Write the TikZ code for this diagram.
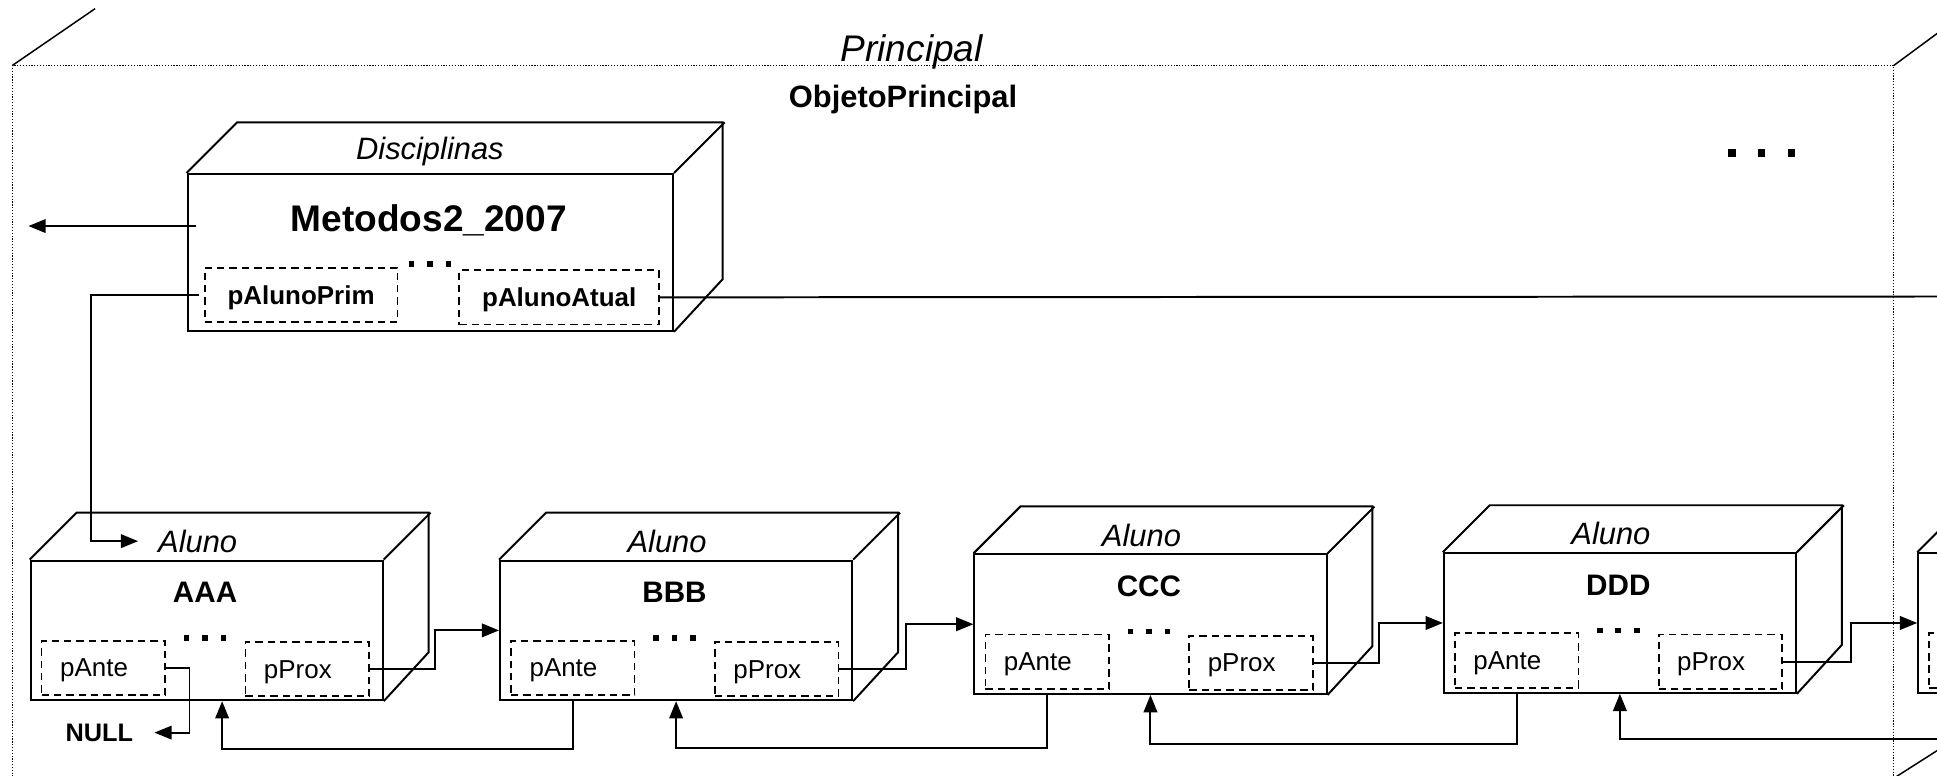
\documentclass[tikz,border=0pt]{standalone}
\usepackage{fontspec}
\setmainfont{Liberation Sans}
\usetikzlibrary{arrows.meta}
\tikzset{
  edge/.style={line width=1.6pt, line join=miter},
  thinedge/.style={line width=1.2pt},
  dotline/.style={line width=1pt, dash pattern=on 1pt off 1.3pt},
  face/.style={draw, line width=1.6pt, inner sep=0pt, anchor=north west, minimum width=285pt, minimum height=113pt},
  fieldbox/.style={draw, line width=1.4pt, dash pattern=on 6pt off 4pt, inner sep=0pt, anchor=north west},
  fieldl/.style={fieldbox, inner xsep=15pt, text width=70pt, align=left, minimum height=44pt, text depth=0pt, font=\fontsize{21}{21}\selectfont},
  fieldc/.style={fieldbox, align=center, minimum height=44pt, text depth=0pt, font=\bfseries\fontsize{21}{21}\selectfont},
  clslbl/.style={inner sep=0pt, anchor=base, font=\itshape\fontsize{25}{25}\selectfont},
  namelbl/.style={inner sep=0pt, anchor=base, font=\bfseries\fontsize{24}{24}\selectfont},
  arr/.style={line width=1.6pt, -{Triangle[length=14pt,width=11pt]}},
}
\newcommand\alunobox[4]{%
  \node[face] (#1) at (#2,#3) {};
  \draw[edge] (#1.north west) -- ++(38,-38) -- ++(285,0) -- ++(0,113) -- (#1.south east);
  \draw[edge] (#1.north east) -- ++(38,-38);
  \node[clslbl] (#1-cls) at ([shift={(136,-6)}]#1.north west) {Aluno};
  \node[namelbl] (#1-name) at ([shift={(142,35)}]#1.north west) {#4};
  \node[fieldl] (#1-ante) at ([shift={(9,65)}]#1.north west) {pAnte};
  \node[fieldl] (#1-prox) at ([shift={(174,66)}]#1.north west) {pProx};
  \foreach \d in {-15,0,15}
    \fill ([shift={(142+\d-2.3,61)}]#1.north west) rectangle ++(4.6,4.6);
}
\begin{document}
\begin{tikzpicture}[x=1pt,y=-1pt]
\fill[white] (0,0) rectangle (1568,628);
\useasboundingbox (0,0) rectangle (1568,628);

% outer frame
\draw[dotline] (10,700) -- (10,53) -- (1533,53) -- (1533,700);
\draw[thinedge] (10,53) -- (77,7);
\draw[thinedge] (1533,53) -- (1575,22);
\draw[thinedge] (1533,630) -- (1580,600);
\node[inner sep=0pt, anchor=base, font=\itshape\fontsize{30}{30}\selectfont] (principal) at (738,50) {Principal};
\node[inner sep=0pt, anchor=base, font=\bfseries\fontsize{25}{25}\selectfont] (objeto) at (731,87) {ObjetoPrincipal};
\foreach \xx in {1402,1426,1450}
  \fill (\xx-3,121) rectangle ++(6,6);

% Disciplinas box
\node[draw, line width=1.6pt, inner sep=0pt, anchor=north west, minimum width=393pt, minimum height=127pt] (disc) at (151,140) {};
\draw[edge] (disc.north west) -- ++(41,-41) -- ++(393,0) -- ++(0,127) -- (disc.south east);
\draw[edge] (disc.north east) -- ++(41,-41);
\node[inner sep=0pt, anchor=base, font=\itshape\fontsize{25}{25}\selectfont] (disc-cls) at (348,129) {Disciplinas};
\node[inner sep=0pt, anchor=base, font=\bfseries\fontsize{30}{30}\selectfont] (disc-name) at (347,187) {Metodos2\_2007};
\node[fieldc, minimum width=156pt] (prim) at (165,216) {pAlunoPrim};
\node[fieldc, minimum width=162pt] (atual) at (371,218) {pAlunoAtual};
\foreach \xx in {333,348,363}
  \fill (\xx-2.3,211.5) rectangle ++(4.6,4.6);

% Aluno boxes
\alunobox{aaa}{24}{453}{AAA}
\alunobox{bbb}{404}{453}{BBB}
\alunobox{ccc}{788}{448}{CCC}
\alunobox{ddd}{1168}{447}{DDD}

% partial next box
\node[face] (nxt) at (1552,447) {};
\draw[edge] (nxt.north west) -- ++(38,-38);
\node[fieldbox, minimum width=100pt, minimum height=44pt] (nxt-ante) at ([shift={(9,65)}]nxt.north west) {};

\node[inner sep=0pt, anchor=base east, font=\bfseries\fontsize{20.5}{20.5}\selectfont] (nullnode) at (108,600) {NULL};

% connectors
\coordinate (leftend) at (23,183);
\coordinate (discleft) at ([xshift=8pt]disc.west);
\draw[arr] (discleft |- leftend) -- (leftend);
\draw[arr] ([xshift=-4pt]prim.west) -- ++(-87,0) |- ([xshift=-16pt]aaa-cls.west);
\coordinate (rightend) at (1590,240);
\draw[edge] (atual.east) -- (rightend);

\draw[arr] (aaa-prox.east) -- ++(53,0) |- (bbb.west);
\draw[arr] (bbb-prox.east) -- ++(54,0) |- (ccc.west);
\draw[arr] (ccc-prox.east) -- ++(53,0) |- (ddd.west);
\draw[arr] (ddd-prox.east) -- ++(55,0) |- (nxt.west);

\draw[arr] (aaa-ante.east) -- ++(19,0) |- ([xshift=17pt]nullnode.east);
\draw[arr] (bbb-ante.south |- bbb.south) -- ++(0,39) -| ([xshift=12.5pt]aaa.south);
\draw[arr] (ccc-ante.south |- ccc.south) -- ++(0,43) -| (bbb.south);
\draw[arr] (ddd-ante.south |- ddd.south) -- ++(0,41) -| (ccc.south);
\coordinate (nextret) at (1590,598);
\draw[arr] (nextret) -| (ddd.south);
\end{tikzpicture}
\end{document}
